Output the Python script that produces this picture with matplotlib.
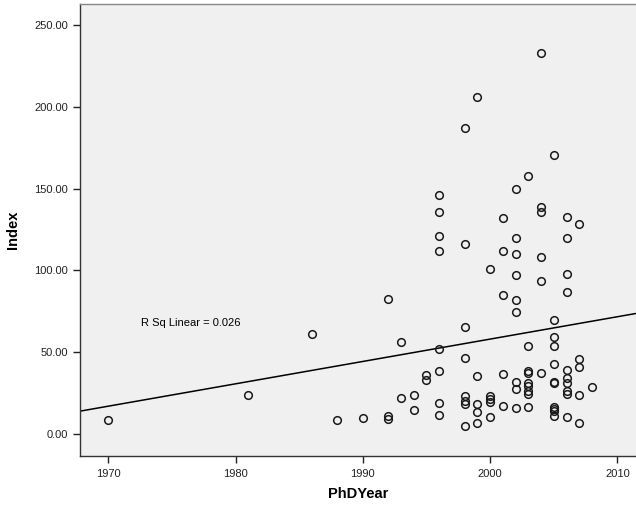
import matplotlib
matplotlib.use("Agg")
import matplotlib.pyplot as plt
import numpy as np

plt.rcParams["font.family"] = ["Liberation Sans", "DejaVu Sans"]

# values, grouped by PhD year
year_1970 = [8.4]
year_1981 = [23.7]
year_1986 = [61.0]
year_1988 = [8.4]
year_1990 = [9.5]
year_1992 = [82.4, 10.8, 9.0]
year_1993 = [56.1, 22.0]
year_1994 = [23.7, 14.7]
year_1995 = [35.7, 33.0]
year_1996 = [146.0, 135.8, 121.0, 111.8, 51.8, 38.6, 19.0, 11.6]
year_1998 = [186.9, 116.0, 65.5, 46.4, 23.0, 20.0, 18.5, 4.7]
year_1999 = [206.2, 35.4, 18.2, 13.3, 6.7]
year_2000 = [100.8, 22.9, 21.1, 19.2, 10.4]
year_2001 = [132.0, 111.8, 84.8, 36.3, 17.3]
year_2002 = [149.9, 119.9, 109.8, 97.0, 81.9, 74.8, 32.0, 27.2, 15.6]
year_2003 = [157.8, 53.6, 38.5, 37.2, 31.0, 29.5, 26.2, 24.2, 16.3]
year_2004 = [232.8, 138.7, 135.5, 108.2, 93.3, 37.5]
year_2005 = [170.5, 69.6, 59.4, 53.5, 42.5, 31.8, 31.2, 16.5, 15.1, 13.7, 11.0]
year_2006 = [132.6, 119.6, 97.9, 86.7, 39.2, 34.1, 31.2, 26.3, 24.3, 10.0]
year_2007 = [128.3, 45.5, 41.0, 23.5, 6.7]
year_2008 = [28.4]

groups = {
    1970: year_1970, 1981: year_1981, 1986: year_1986, 1988: year_1988,
    1990: year_1990, 1992: year_1992, 1993: year_1993, 1994: year_1994,
    1995: year_1995, 1996: year_1996, 1998: year_1998, 1999: year_1999,
    2000: year_2000, 2001: year_2001, 2002: year_2002, 2003: year_2003,
    2004: year_2004, 2005: year_2005, 2006: year_2006, 2007: year_2007,
    2008: year_2008,
}
x_ticks = [1970, 1980, 1990, 2000, 2010]
y_ticks = [0, 50, 100, 150, 200, 250]
r_sq_text = "R Sq Linear = 0.026"

phd_year = np.array([y for y, vals in groups.items() for _ in vals], dtype=float)
index = np.array([v for vals in groups.values() for v in vals], dtype=float)

fig = plt.figure(figsize=(6.36, 5.05), dpi=100)
# plot area runs off the right edge of the picture, as in the reference
ax = fig.add_axes([0.1252, 0.097, 0.8748, 0.896])
ax.set_facecolor("#f0f0f0")

x_min, x_max = 1967.75, 2011.46
ax.set_xlim(x_min, x_max)
ax.set_ylim(-13.6, 263.3)

slope, intercept = np.polyfit(phd_year, index, 1)
line_x = np.array([x_min, x_max])
ax.plot(line_x, intercept + slope * line_x, color="black", linewidth=1.1, zorder=2)

ax.plot(phd_year, index, linestyle="none", marker="o", markersize=5.5,
        markerfacecolor="none", markeredgecolor="#1a1a1a", markeredgewidth=1.1, zorder=3)

ax.text(1972.6, 67.9, r_sq_text, fontsize=8, va="center", ha="left")

ax.set_xticks(x_ticks)
ax.set_xticklabels([str(t) for t in x_ticks])
ax.set_yticks(y_ticks)
ax.set_yticklabels([f"{t:.2f}" for t in y_ticks])
ax.tick_params(axis="both", direction="out", length=5, width=1, labelsize=8, colors="#222222")
ax.tick_params(axis="x", pad=4)

for side in ["left", "bottom"]:
    ax.spines[side].set_color("#333333")
    ax.spines[side].set_linewidth(1.0)
ax.spines["top"].set_color("#888888")
ax.spines["top"].set_linewidth(1.0)
ax.spines["right"].set_visible(False)

ax.set_xlabel("PhDYear", fontsize=10.5, fontweight="bold", labelpad=6)
ax.set_ylabel("Index", fontsize=10.5, fontweight="bold", labelpad=10)

fig.savefig("out.png", dpi=100)
